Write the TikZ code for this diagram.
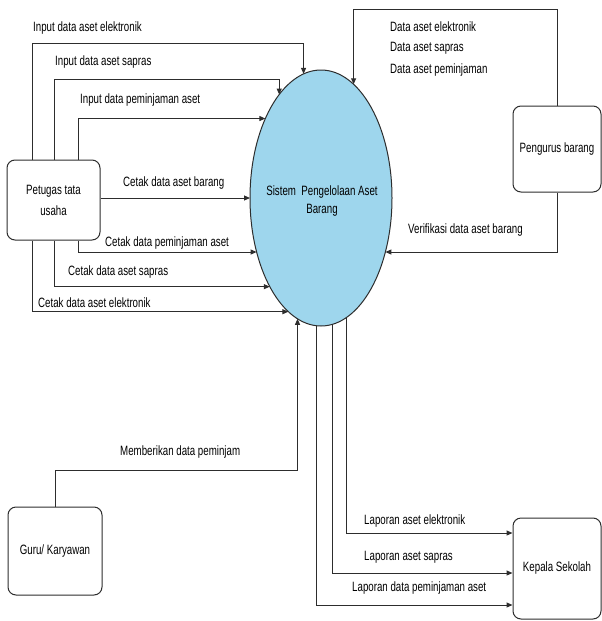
\documentclass[tikz,border=0pt]{standalone}
\usepackage{fontspec}
\setmainfont{Liberation Sans}[FakeStretch=0.72]
\usetikzlibrary{arrows.meta,shapes.geometric}
\definecolor{procblue}{RGB}{158,214,237}
\definecolor{linegray}{RGB}{45,45,45}
\begin{document}
\begin{tikzpicture}[x=1pt,y=-1pt,
  flow/.style={draw=linegray, line width=1pt, -{Triangle[length=6pt,width=5pt]}},
  entity/.style={draw=linegray, line width=1pt, rounded corners=8pt, fill=white, align=center, inner sep=2pt, font=\fontsize{13.5}{21}\selectfont},
  lbl/.style={anchor=west, inner sep=0pt, font=\fontsize{13.5}{15}\selectfont},
  proc/.style={ellipse, draw=linegray, line width=1pt, fill=procblue, minimum width=142pt, minimum height=256pt, inner sep=0pt, outer sep=0pt}]
\useasboundingbox (0,0) rectangle (602,621);

% nodes
\node[proc] (E) at (321,198) {};
\node[align=center, font=\fontsize{13.5}{18}\selectfont] (Et) at (322,201) {Sistem\ \ Pengelolaan Aset\\Barang};
\node[entity, minimum width=93pt, minimum height=80pt] (P) at (53.5,200) {Petugas tata\\usaha};
\node[entity, minimum width=88pt, minimum height=86pt] (G) at (557,149) {Pengurus barang};
\node[entity, minimum width=94pt, minimum height=88pt] (K) at (55,551) {Guru/ Karyawan};
\node[entity, minimum width=88pt, minimum height=101pt] (S) at (557,568.5) {Kepala Sekolah};

% helper coordinates
\coordinate (c1) at (32,43);
\coordinate (c2) at (54.5,79);
\coordinate (c3) at (78,120);
\coordinate (g1) at (0,9);
\coordinate (k1) at (0,470);
\coordinate (s1) at (0,533);
\coordinate (s2) at (0,573);
\coordinate (s3) at (0,605);

% Petugas -> Sistem (input)
\draw[flow] (P.north -| c1) -- (c1) -| (E.98.3);
\draw[flow] (P.north -| c2) -- (c2) -| (E.112.1);
\draw[flow] (P.north -| c3) |- (E.125.8);
% Petugas -> Sistem (cetak)
\draw[flow] (P.east |- E.west) -- (E.west);
\draw[flow] (P.south -| c3) |- (E.220.0);
\draw[flow] (P.south -| c2) |- (E.240.2);
\draw[flow] (P.south -| c1) |- (E.254.2);

% Pengurus
\draw[flow] (G.north) -- (G.north |- g1) -| (E.74.4);
\draw[flow] (G.south) |- (E.320.0);

% Guru
\draw[flow] (K.north) -- (K.north |- k1) -| (E.259.25);

% Kepala
\draw[flow] (E.282.3) |- (S.west |- s1);
\draw[flow] (E.275.4) |- (S.west |- s2);
\draw[flow] (E.268.7) |- (S.west |- s3);

% labels
\node[lbl] (l1) at (33,28) {Input data aset elektronik};
\node[lbl] (l2) at (55,62) {Input data aset sapras};
\node[lbl] (l3) at (80,100) {Input data peminjaman aset};
\node[lbl] (l4) at (123,183) {Cetak data aset barang};
\node[lbl] (l5) at (105,243) {Cetak data peminjaman aset};
\node[lbl] (l6) at (68,272) {Cetak data aset sapras};
\node[lbl] (l7) at (38,303) {Cetak data aset elektronik};
\node[lbl] (l8) at (390,27) {Data aset elektronik};
\node[lbl] (l9) at (390,48) {Data aset sapras};
\node[lbl] (l10) at (390,70) {Data aset peminjaman};
\node[lbl] (l11) at (408,230) {Verifikasi data aset barang};
\node[lbl] (l12) at (120,452) {Memberikan data peminjam};
\node[lbl] (l13) at (364,521) {Laporan aset elektronik};
\node[lbl] (l14) at (364,557) {Laporan aset sapras};
\node[lbl] (l15) at (352,588) {Laporan data peminjaman aset};
\end{tikzpicture}
\end{document}
